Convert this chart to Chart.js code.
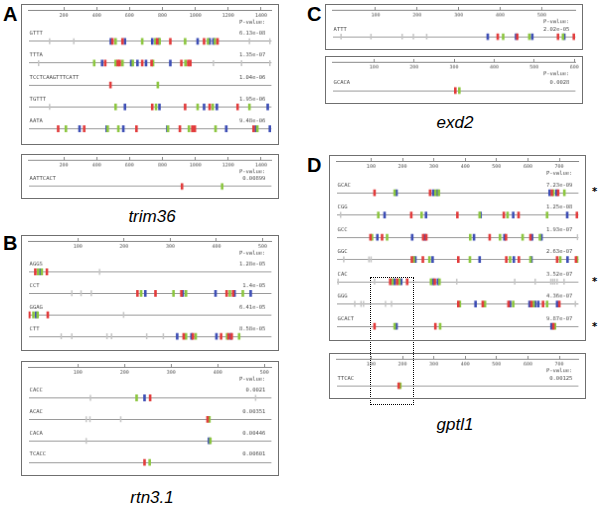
<!DOCTYPE html>
<html>
<head>
<meta charset="utf-8">
<script src="https://cdn.jsdelivr.net/npm/chart.js@4"></script>
<style>
  body { margin: 0; background: #fff; }
  #page { position: relative; width: 602px; height: 508px; overflow: hidden; background: #fff; }
  #page canvas { position: absolute; border: 1px solid #6f6f6f; }
  .letter { position: absolute; font: bold 20px "Liberation Sans", Arial, sans-serif; color: #000; }
  .gene { position: absolute; font: italic 17px "Liberation Sans", Arial, sans-serif; color: #000; transform: translateX(-50%); }
  .star { position: absolute; font: bold 10px "DejaVu Sans", sans-serif; color: #000; }
  #dotbox { position: absolute; border: 1.5px dotted #000; box-sizing: border-box; }
</style>
</head>
<body>
<div id="page">
  <div class="letter" style="left:3px;top:3px">A</div>
  <div class="letter" style="left:3px;top:232px">B</div>
  <div class="letter" style="left:307px;top:3px">C</div>
  <div class="letter" style="left:307px;top:154px">D</div>
  <div class="gene" style="left:152px;top:207px">trim36</div>
  <div class="gene" style="left:152px;top:488px">rtn3.1</div>
  <div class="gene" style="left:455px;top:113px">exd2</div>
  <div class="gene" style="left:455px;top:415px">gptl1</div>
  <div id="dotbox"></div>
</div>
<script>

// ---- DATA ----

// trim36 (panel A)
const trimTicks = [200, 400, 600, 800, 1000, 1200, 1400];
const trimMotifs = ['GTTT', 'TTTA', 'TCCTCAAGTTTCATT', 'TGTTT', 'AATA'];
const trimPvalues = ['6.13e-08', '1.35e-07', '1.04e-06', '1.95e-06', '9.48e-06'];
const trimRed = [[496, 557, 768, 848, 1053, 1135], [452, 528, 540, 677, 734, 915, 957, 970], [484], [738, 938, 1087, 1257], [166, 324, 642, 906, 982, 997, 1354]];
const trimGreen = [[515, 677, 757, 783, 938, 1077, 1119], [385, 515, 557, 620, 743, 940], [772], [515, 761, 1014, 1106, 1329], [213, 467, 532, 834, 961, 1123, 1377]];
const trimBlue = [[486, 572, 738, 778, 1014, 1087, 1110], [433, 610, 648, 700, 848], [], [572, 782, 1053, 1131, 1440], [296, 461, 562, 830, 1188, 1367, 1453]];
const trimGray = [[114, 261, 1329, 1453], [47, 1110, 1281, 1453], [], [114], []];

const trimMotifs2 = ['AATTCACT'];
const trimPvalues2 = ['0.00899'];
const trimRed2 = [[919]];
const trimGreen2 = [[1163]];
const trimBlue2 = [[]];
const trimGray2 = [[]];

// rtn3.1 (panel B)
const rtnTicks = [100, 200, 300, 400, 500];
const rtnMotifs = ['AGGS', 'CCT', 'GGAG', 'CTT'];
const rtnPvalues = ['1.28e-05', '1.4e-05', '6.41e-05', '8.58e-05'];
const rtnRed = [[8, 33], [229, 268, 324, 422, 436], [-5, 35], [329, 349, 410, 426, 433]];
const rtnGreen = [[14, 22], [237, 307, 334, 429, 457], [4, 13], [334, 355, 423, 449]];
const rtnBlue = [[19], [246, 327, 398, 439, 474], [10], [315, 346, 400, 431]];
const rtnGray = [[147], [87, 107, 129], [199], [64, 87, 163, 173, 249, 285]];

const rtnMotifs2 = ['CACC', 'ACAC', 'CACA', 'TCACC'];
const rtnPvalues2 = ['0.0021', '0.00351', '0.00446', '0.00601'];
const rtnRed2 = [[255], [378], [], [243]];
const rtnGreen2 = [[226], [382], [384], [254]];
const rtnBlue2 = [[243], [], [381], []];
const rtnGray2 = [[127, 481], [118, 126, 192], [118], []];

// exd2 (panel C)
const exdTicks = [100, 200, 300, 400, 500];
const exdTicks2 = [100, 200, 300, 400, 500, 600];
const exdMotifs = ['ATTT'];
const exdPvalues = ['2.02e-05'];
const exdRed = [[394, 441, 539, 577]];
const exdGreen = [[407, 470, 551]];
const exdBlue = [[370, 438, 477, 554]];
const exdGray = [[17, 89, 164, 191, 223]];

const exdMotifs2 = ['GCACA'];
const exdPvalues2 = ['0.0028'];
const exdRed2 = [[303]];
const exdGreen2 = [[313]];
const exdBlue2 = [[]];
const exdGray2 = [[]];

// gptl1 (panel D)
const gptTicks = [100, 200, 300, 400, 500, 600, 700];
const gptMotifs = ['GCAC', 'CGG', 'GCC', 'GGC', 'CAC', 'GGG', 'GCACT'];
const gptPvalues = ['7.23e-09', '1.25e-08', '1.93e-07', '2.63e-07', '3.52e-07', '4.36e-07', '9.87e-07'];
const gptRed = [[111, 288, 676, 696], [228, 375, 523, 570, 756], [98, 135, 266, 276, 478, 530, 608], [230, 265, 378, 531, 571, 693, 753], [161, 183, 215, 303], [378, 456, 538, 611, 648, 700], [111, 305, 681]];
const gptGreen = [[175, 305, 316, 681, 716], [123, 261, 446, 535, 661], [103, 151, 416, 511, 583, 638], [236, 286, 415, 543, 608, 703, 758], [168, 190, 291, 318], [383, 463, 553, 618, 661], [175, 320, 686]];
const gptBlue = [[181, 298, 311, 669, 691], [143, 275, 449, 553, 725], [120, 231, 271, 428, 525, 613, 643], [241, 296, 446, 555, 611, 726], [175, 196, 298, 313], [433, 543, 605, 623, 633, 693], [181, 675]];
const gptGray = [[], [3], [758], [13, 93, 100], [-5, 111, 373, 558, 623, 673, 679, 685, 693, 715], [48, 68, 76, 146, 165, 751], []];

const gptMotifs2 = ['TTCAC'];
const gptPvalues2 = ['0.00125'];
const gptRed2 = [[188]];
const gptGreen2 = [[193]];
const gptBlue2 = [[]];
const gptGray2 = [[]];

// starred motifs in panel D and the boxed window (bp)
const gptStarred = ['GCAC', 'CAC', 'GCACT'];
const gptWindow = [96, 235];

// ---- DRAWING ----

const ROW_H = 23.4;
const ROW_TOP = 23;   // px from chart area top to first row line
const COLORS = { red: '#e23b3b', green: '#8cc63f', blue: '#3c4db5', gray: '#c4c4c4' };

function points(rows) {
    const out = [];
    rows.forEach((row, i) => row.forEach(x => out.push({ x: x, y: i })));
    return out;
}

function markSet(rows, color, gray) {
    return {
        data: points(rows),
        pointStyle: 'line',
        rotation: 90,
        radius: gray ? 3 : 3.4,
        borderWidth: gray ? 1.5 : 2.6,
        borderColor: color,
        backgroundColor: color,
        showLine: false
    };
}

const rowText = {
    id: 'rowText',
    afterDraw(chart) {
        const o = chart.options.plugins.rowText;
        const ctx = chart.ctx;
        const area = chart.chartArea;
        const ys = chart.scales.y;
        ctx.save();
        ctx.fillStyle = '#4a4a4a';
        ctx.font = '5.5px "DejaVu Sans Mono", monospace';
        ctx.textBaseline = 'middle';
        ctx.textAlign = 'right';
        ctx.fillText('P-value:', area.right - 6, area.top + 3);
        o.motifs.forEach((m, i) => {
            const y = ys.getPixelForValue(i) - 8;
            ctx.textAlign = 'left';
            ctx.fillText(m, area.left + 1, y);
            ctx.textAlign = 'right';
            ctx.fillText(o.pvalues[i], area.right - 6, y);
        });
        ctx.restore();
    }
};

function setTicks(list) {
    return scale => { scale.ticks = list.map(v => ({ value: v })); };
}

function makeTrack(box, xRange, ticks, motifs, pvalues, red, green, blue, gray) {
    const canvas = document.createElement('canvas');
    canvas.width = box.w - 2;
    canvas.height = box.h - 2;
    canvas.style.left = box.x + 'px';
    canvas.style.top = box.y + 'px';
    document.getElementById('page').appendChild(canvas);

    const areaH = canvas.height - 15;
    const yMin = -(box.rowTop || ROW_TOP) / ROW_H;
    const yMax = yMin + areaH / ROW_H;

    return new Chart(canvas.getContext('2d'), {
        type: 'scatter',
        data: {
            datasets: [
                markSet(gray, COLORS.gray, true),
                markSet(red, COLORS.red),
                markSet(green, COLORS.green),
                markSet(blue, COLORS.blue)
            ]
        },
        options: {
            responsive: false,
            animation: false,
            events: [],
            layout: { padding: 0 },
            plugins: {
                legend: { display: false },
                tooltip: { enabled: false },
                rowText: { motifs: motifs, pvalues: pvalues }
            },
            scales: {
                x: {
                    type: 'linear',
                    position: 'top',
                    min: xRange[0],
                    max: xRange[1],
                    weight: 1,
                    afterBuildTicks: setTicks(ticks),
                    afterFit: s => { s.height = 10; },
                    grid: { display: false, drawTicks: false },
                    border: { display: false },
                    ticks: {
                        padding: 1,
                        color: '#555',
                        font: { family: 'DejaVu Sans Mono', size: 5 },
                        maxRotation: 0,
                        autoSkip: false,
                        callback: v => String(v)
                    }
                },
                xline: {
                    type: 'linear',
                    position: 'top',
                    min: xRange[0],
                    max: xRange[1],
                    weight: 2,
                    afterBuildTicks: setTicks(ticks),
                    afterFit: s => { s.height = 5; },
                    grid: { drawOnChartArea: false, tickLength: 3, color: '#888', lineWidth: 1 },
                    border: { display: true, color: '#888', width: 1 },
                    ticks: { display: false }
                },
                y: {
                    type: 'linear',
                    reverse: true,
                    min: yMin,
                    max: yMax,
                    afterBuildTicks: setTicks(motifs.map((m, i) => i)),
                    afterFit: s => { s.width = 0; },
                    grid: { color: '#9a9a9a', lineWidth: 1, drawTicks: false },
                    border: { display: false },
                    ticks: { display: false }
                }
            }
        },
        plugins: [rowText]
    });
}

makeTrack({ x: 21, y: 4, w: 260, h: 143 }, [-14, 1463], trimTicks, trimMotifs, trimPvalues, trimRed, trimGreen, trimBlue, trimGray);
makeTrack({ x: 21, y: 154, w: 260, h: 47 }, [-14, 1463], trimTicks, trimMotifs2, trimPvalues2, trimRed2, trimGreen2, trimBlue2, trimGray2);
makeTrack({ x: 21, y: 235, w: 260, h: 118 }, [-6.6, 519], rtnTicks, rtnMotifs, rtnPvalues, rtnRed, rtnGreen, rtnBlue, rtnGray);
makeTrack({ x: 21, y: 361, w: 260, h: 117 }, [-5.5, 515], rtnTicks, rtnMotifs2, rtnPvalues2, rtnRed2, rtnGreen2, rtnBlue2, rtnGray2);
makeTrack({ x: 325, y: 4, w: 260, h: 48 }, [-3.4, 581], exdTicks, exdMotifs, exdPvalues, exdRed, exdGreen, exdBlue, exdGray);
makeTrack({ x: 325, y: 56, w: 260, h: 50, rowTop: 25 }, [-3.5, 603], exdTicks2, exdMotifs2, exdPvalues2, exdRed2, exdGreen2, exdBlue2, exdGray2);
const dTop = makeTrack({ x: 329, y: 155, w: 259, h: 188 }, [-10, 761], gptTicks, gptMotifs, gptPvalues, gptRed, gptGreen, gptBlue, gptGray);
const dBottom = makeTrack({ x: 329, y: 353, w: 259, h: 48 }, [-10, 761], gptTicks, gptMotifs2, gptPvalues2, gptRed2, gptGreen2, gptBlue2, gptGray2);

// asterisks next to the starred rows of panel D
const page = document.getElementById('page');
gptStarred.forEach(m => {
    const i = gptMotifs.indexOf(m);
    const y = 156 + dTop.scales.y.getPixelForValue(i);
    const star = document.createElement('div');
    star.className = 'star';
    star.textContent = '*';
    star.style.left = '592px';
    star.style.top = (y - 7) + 'px';
    page.appendChild(star);
});

// dotted window spanning both gptl1 tracks
const dot = document.getElementById('dotbox');
const winLeft = 330 + dTop.scales.x.getPixelForValue(gptWindow[0]);
const winRight = 330 + dTop.scales.x.getPixelForValue(gptWindow[1]);
const winTop = 156 + dTop.scales.y.getPixelForValue(gptMotifs.indexOf('CAC')) - 6;
dot.style.left = winLeft + 'px';
dot.style.top = winTop + 'px';
dot.style.width = (winRight - winLeft) + 'px';
dot.style.height = (405 - winTop) + 'px';
</script>
</body>
</html>
